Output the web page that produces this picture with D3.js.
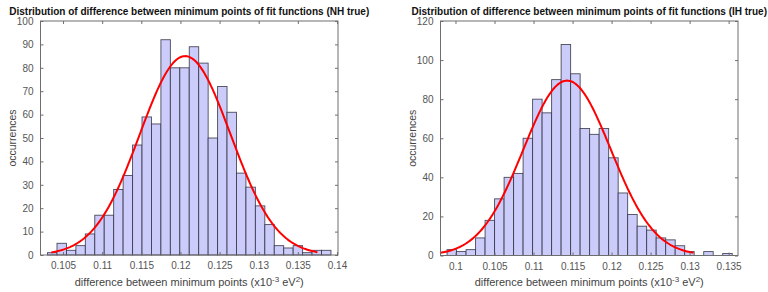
<!DOCTYPE html>
<html>
<head>
<meta charset="utf-8">
<script src="https://cdn.jsdelivr.net/npm/d3@7"></script>
<style>
  body { margin: 0; background: #fff; }
  svg { display: block; font-family: "Liberation Sans", Arial, sans-serif; }
</style>
</head>
<body>
<div class="charts"></div>
<script>
// histogram counts (30 bins each)
const nhCounts = [1, 5, 2, 4, 9, 17, 17, 28, 34, 47, 59, 56, 92, 80, 80, 89, 82, 50, 72, 61, 35, 29, 21, 13, 4, 3, 4, 1, 2, 2];
const ihCounts = [3, 2, 3, 9, 18, 29, 40, 42, 60, 80, 73, 90, 108, 93, 65, 62, 65, 50, 32, 21, 15, 13, 9, 8, 5, 2, 0, 2, 0, 1];

// bin layout (first edge, bin width)
const nhBins = [0.10302, 0.001207];
const ihBins = [0.09892, 0.001218];

// gaussian fit: mean, sigma, peak, drawn from, drawn to
const nhFit = [0.1206, 0.0058, 85, 0.1035, 0.1375];
const ihFit = [0.1143, 0.0056, 89.5, 0.0981, 0.1305];

// axis limits and ticks
const nhXDomain = [0.10212, 0.14013];
const ihXDomain = [0.09808, 0.1362];
const nhXTicks = [0.105, 0.11, 0.115, 0.12, 0.125, 0.13, 0.135, 0.14];
const ihXTicks = [0.1, 0.105, 0.11, 0.115, 0.12, 0.125, 0.13, 0.135];
const nhYTicks = [0, 10, 20, 30, 40, 50, 60, 70, 80, 90, 100];
const ihYTicks = [0, 20, 40, 60, 80, 100, 120];

const titles = [
  'Distribution of difference between minimum points of fit functions (NH true)',
  'Distribution of difference between minimum points of fit functions (IH true)'
];

var svg = d3.select('.charts').append('svg')
  .attr('width', 768)
  .attr('height', 292);

// one title size for both panels, fitted to the left title's width
var probe = svg.append('text')
  .style('font-size', '11px').style('font-weight', 'bold')
  .text(titles[0]);
var titleSize = 11 * 360 / probe.node().getComputedTextLength();
probe.remove();

function renderChart(cfg) {
  var x = d3.scaleLinear().domain(cfg.xDomain).range([cfg.left, cfg.right]);
  var y = d3.scaleLinear().domain([0, cfg.yMax]).range([cfg.bottom, cfg.top]);
  var g = svg.append('g');
  var axisColor = '#6e6e6e';

  // bars
  var bins = cfg.counts.map((c, i) => ({
    x0: cfg.bins[0] + i * cfg.bins[1],
    x1: cfg.bins[0] + (i + 1) * cfg.bins[1],
    c: c
  }));
  g.selectAll('rect.bar').data(bins).enter().append('rect')
    .attr('class', 'bar')
    .attr('x', d => x(d.x0))
    .attr('width', d => x(d.x1) - x(d.x0))
    .attr('y', d => y(d.c))
    .attr('height', d => y(0) - y(d.c))
    .attr('fill', '#ccccfb')
    .attr('stroke', '#2e2e40')
    .attr('stroke-opacity', 0.85)
    .attr('stroke-width', 0.9);

  // fit curve
  var f = cfg.fit;
  var pts = d3.range(0, 201).map(i => {
    var xv = f[3] + (f[4] - f[3]) * i / 200;
    return [xv, f[2] * Math.exp(-Math.pow(xv - f[0], 2) / (2 * f[1] * f[1]))];
  });
  g.append('path')
    .datum(pts)
    .attr('fill', 'none')
    .attr('stroke', '#ff0000')
    .attr('stroke-width', 2)
    .attr('d', d3.line().x(d => x(d[0])).y(d => y(d[1])));

  // axes, ticks pointing inward
  var xb = d3.axisBottom(x).tickValues(cfg.xTicks).tickSize(-3).tickPadding(7).tickFormat(d => +d.toFixed(3));
  var xt = d3.axisTop(x).tickValues(cfg.xTicks).tickSize(-3).tickFormat('');
  var yl = d3.axisLeft(y).tickValues(cfg.yTicks).tickSize(-3).tickPadding(7);
  var yr = d3.axisRight(y).tickValues(cfg.yTicks).tickSize(-3).tickFormat('');

  [[xb, `translate(0,${cfg.bottom})`], [xt, `translate(0,${cfg.top})`],
   [yl, `translate(${cfg.left},0)`], [yr, `translate(${cfg.right},0)`]].forEach(a => {
    var ax = g.append('g').attr('transform', a[1]).call(a[0]);
    ax.select('.domain').remove();
    ax.selectAll('line').attr('stroke', axisColor);
    ax.selectAll('text').attr('fill', '#555').style('font-size', '10px')
      .style('font-family', '"Liberation Sans", Arial, sans-serif');
  });

  g.append('rect')
    .attr('x', cfg.left).attr('y', cfg.top)
    .attr('width', cfg.right - cfg.left).attr('height', cfg.bottom - cfg.top)
    .attr('fill', 'none').attr('stroke', axisColor).attr('stroke-width', 1);

  var cx = (cfg.left + cfg.right) / 2;

  g.append('text')
    .attr('x', cx).attr('y', 15)
    .attr('text-anchor', 'middle')
    .style('font-size', titleSize.toFixed(2) + 'px').style('font-weight', 'bold')
    .attr('fill', '#111')
    .text(cfg.title);

  var xl = g.append('text')
    .attr('x', cx).attr('y', 286)
    .attr('text-anchor', 'middle')
    .style('font-size', '11px')
    .attr('fill', '#444');
  xl.append('tspan').text('difference between minimum points (x10');
  xl.append('tspan').attr('dy', -4).style('font-size', '8px').text('-3');
  xl.append('tspan').attr('dy', 4).text(' eV');
  xl.append('tspan').attr('dy', -4).style('font-size', '8px').text('2');
  xl.append('tspan').attr('dy', 4).text(')');

  g.append('text')
    .attr('transform', `translate(${cfg.left - 25},${(cfg.top + cfg.bottom) / 2}) rotate(-90)`)
    .attr('text-anchor', 'middle')
    .style('font-size', '10.5px')
    .attr('fill', '#444')
    .text('occurrences');
}

renderChart({
  counts: nhCounts, bins: nhBins, fit: nhFit,
  xDomain: nhXDomain, xTicks: nhXTicks, yTicks: nhYTicks, yMax: 100,
  left: 40.5, right: 338, top: 21, bottom: 255, title: titles[0]
});
renderChart({
  counts: ihCounts, bins: ihBins, fit: ihFit,
  xDomain: ihXDomain, xTicks: ihXTicks, yTicks: ihYTicks, yMax: 120,
  left: 440.5, right: 738, top: 21, bottom: 255.5, title: titles[1]
});
</script>
</body>
</html>
